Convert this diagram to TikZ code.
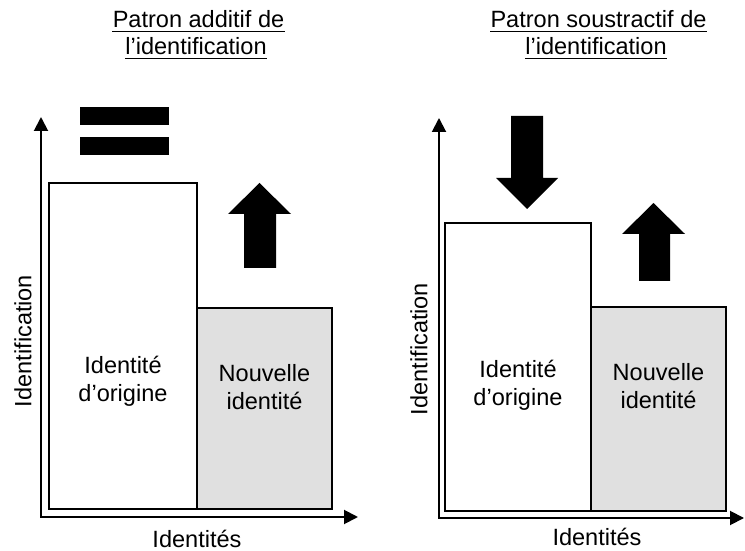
\documentclass[tikz,border=0pt]{standalone}
\usepackage{fontspec}
\setmainfont{Liberation Sans}
\usetikzlibrary{arrows.meta}
\definecolor{boxgray}{gray}{0.88}

\begin{document}
\begin{tikzpicture}[font=\fontsize{13.4}{16}\selectfont]
    \tikzset{axis/.style = {<->, >={Triangle[length=0.28cm,width=0.28cm]}, line width=1.1pt}}
    \tikzset{bar/.style = {draw, line width=0.9pt}}
    \tikzset{title/.style = {anchor=base, inner sep=0pt}}
    \tikzset{uline/.style = {line width=1.1pt}}
    \tikzset{boxtext/.style = {align=center}}
    \useasboundingbox (0,0) rectangle (14.9,11);
    % titles
    \node[title] (t1a) at (3.97,10.44) {Patron additif de\ };
    \node[title] (t1b) at (3.92,9.9) {l’identification};
    \node[title] (t2a) at (11.97,10.44) {Patron soustractif de\ };
    \node[title] (t2b) at (11.92,9.9) {l’identification};
    \draw[uline] ([yshift=-0.07cm]t1a.base west) -- ([yshift=-0.07cm]t1a.base east);
    \draw[uline] ([yshift=-0.07cm]t1b.base west) -- ([yshift=-0.07cm]t1b.base east);
    \draw[uline] ([yshift=-0.07cm]t2a.base west) -- ([yshift=-0.07cm]t2a.base east);
    \draw[uline] ([yshift=-0.07cm]t2b.base west) -- ([yshift=-0.07cm]t2b.base east);
%%%%%%%%%%%%%%%%%
    % additive pattern
    \coordinate (o1) at (0.82,0.66);
    \coordinate (y1) at (0.82,8.66);
    \coordinate (x1) at (7.16,0.66);
    \draw[bar] (0.98,0.82) rectangle (3.94,7.34);
    \draw[bar, fill=boxgray] (3.94,0.82) rectangle (6.64,4.84);
    \draw[axis] (y1) -- (o1) -- (x1);
    \fill (1.6,8.5) rectangle (3.38,8.86);
    \fill (1.6,7.9) rectangle (3.38,8.26);
    \fill (4.88,5.64) -- (4.88,6.72) -- (4.56,6.72) -- (5.19,7.34)
        -- (5.82,6.72) -- (5.52,6.72) -- (5.52,5.64) -- cycle;
    \node[boxtext] (orig1) at (2.46,3.38) {Identité\\d’origine};
    \node[boxtext] (new1) at (5.29,3.25) {Nouvelle\\identité};
    \node[rotate=90] (idf1) at (0.46,4.18) {Identification};
    \node[anchor=base] (ids1) at (3.94,0.06) {Identités};
%%%%%%%%%%%%%%%%%
    % subtractive pattern
    \coordinate (o2) at (8.78,0.64);
    \coordinate (y2) at (8.78,8.64);
    \coordinate (x2) at (14.88,0.64);
    \draw[bar] (8.9,0.78) rectangle (11.82,6.54);
    \draw[bar, fill=boxgray] (11.82,0.78) rectangle (14.52,4.86);
    \draw[axis] (y2) -- (o2) -- (x2);
    \fill (10.22,8.68) -- (10.22,7.44) -- (9.92,7.44) -- (10.54,6.82)
        -- (11.16,7.44) -- (10.86,7.44) -- (10.86,8.68) -- cycle;
    \fill (12.78,5.38) -- (12.78,6.32) -- (12.44,6.32) -- (13.07,6.94)
        -- (13.7,6.32) -- (13.4,6.32) -- (13.4,5.38) -- cycle;
    \node[boxtext] (orig2) at (10.36,3.3) {Identité\\d’origine};
    \node[boxtext] (new2) at (13.17,3.28) {Nouvelle\\identité};
    \node[rotate=90] (idf2) at (8.38,4.02) {Identification};
    \node[anchor=base] (ids2) at (11.94,0.1) {Identités};
\end{tikzpicture}
\end{document}
